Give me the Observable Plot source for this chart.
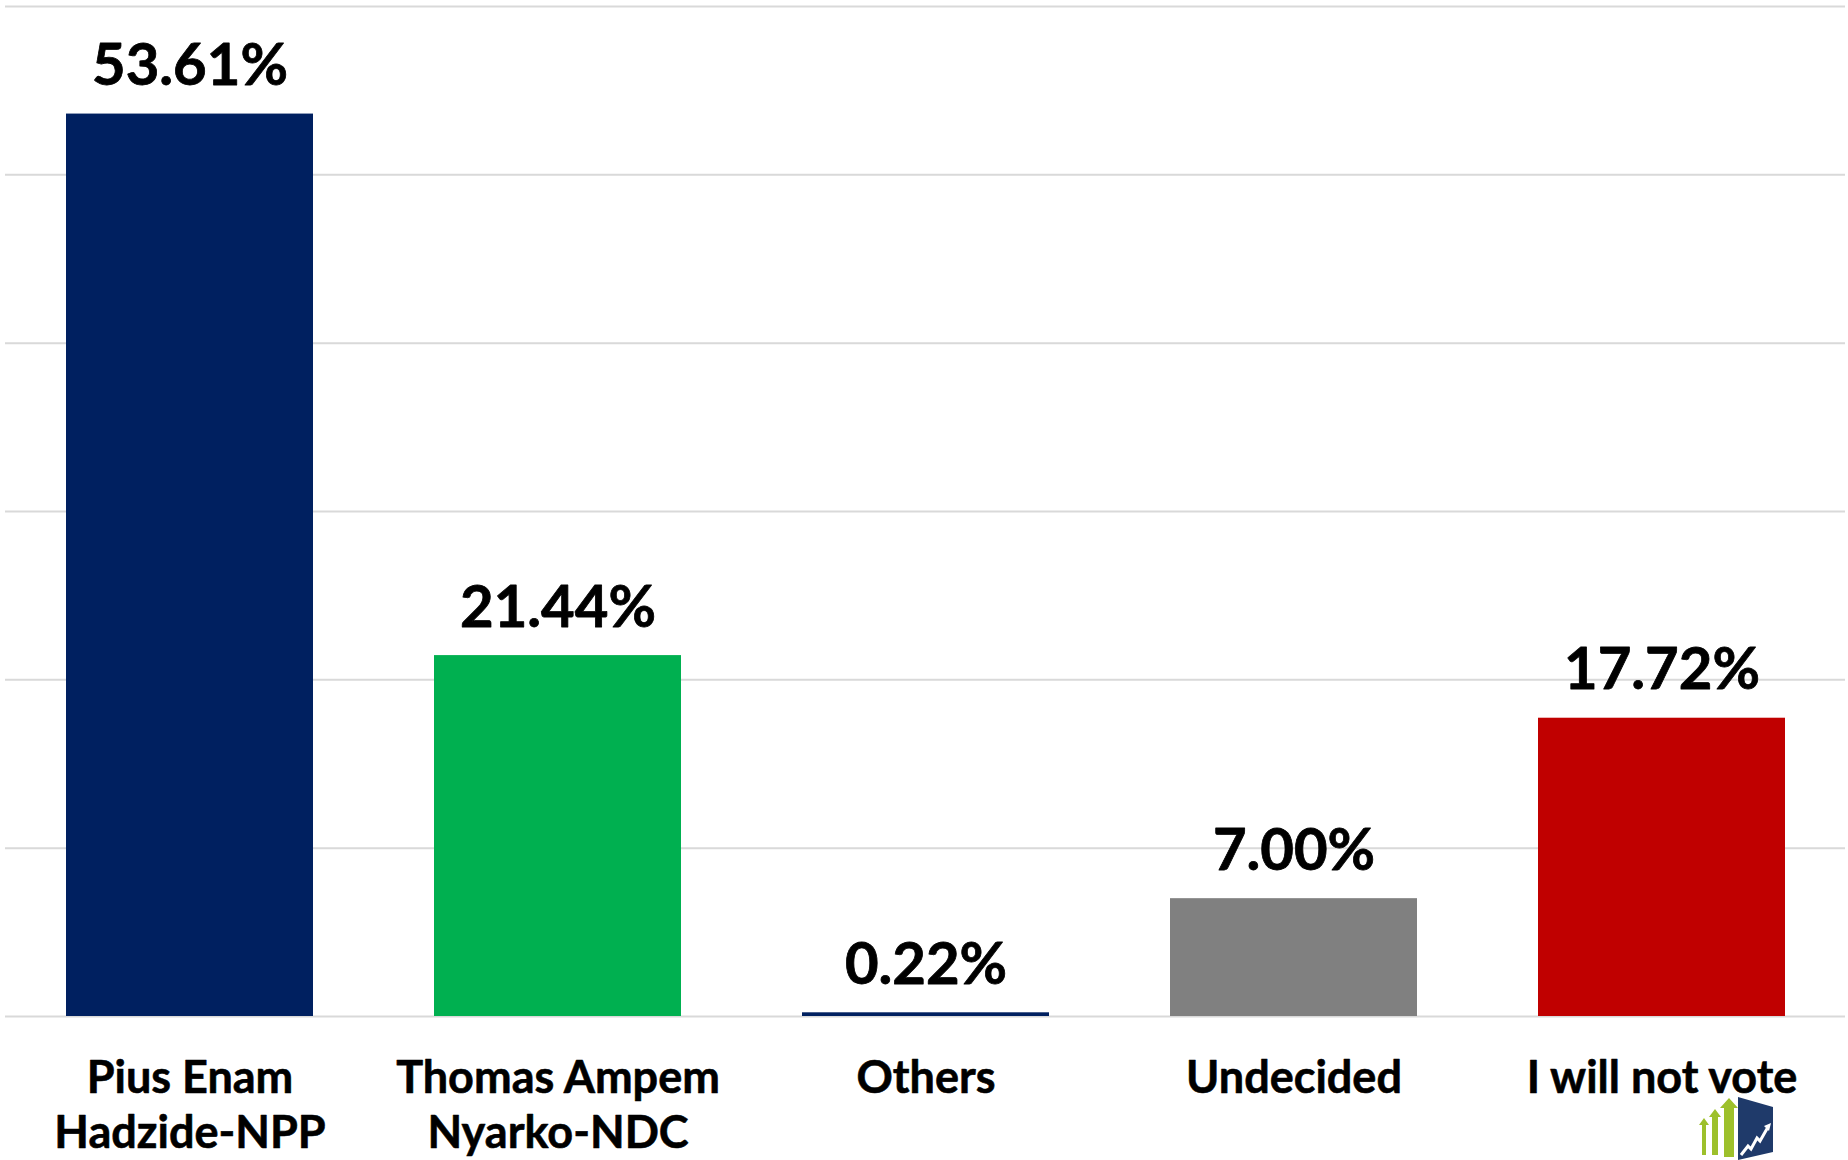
<!DOCTYPE html>
<html>
<head>
<meta charset="utf-8">
<script src="https://cdn.jsdelivr.net/npm/d3@7"></script>
<script src="https://cdn.jsdelivr.net/npm/@observablehq/plot@0.6"></script>
<style>
  html, body { margin: 0; padding: 0; background: #fff; }
  #wrap { position: relative; width: 1848px; height: 1160px; overflow: hidden; }
  #logo { position: absolute; left: 1698px; top: 1094px; }
</style>
</head>
<body>
<div id="wrap">
  <div id="chart"></div>
  <svg id="logo" width="80" height="66" viewBox="0 0 80 66">
    <g fill="#9DC02B">
      <polygon points="4,61 4,31 1,31 6,24 11,31 8,31 8,61"/>
      <polygon points="14,61 14,23 11,23 17,15 23,23 20,23 20,61"/>
      <polygon points="26,63 26,14 22,14 31,4 40,14 36,14 36,63"/>
    </g>
    <polygon points="40,3 75,13 75,58 40,66" fill="#1F3A6A"/>
    <polyline points="43,61 50,52 53,55 59,44 62,47 70,33" fill="none" stroke="#fff" stroke-width="3"/>
    <polygon points="66,32 73,29 71,37" fill="#fff"/>
  </svg>
</div>
<script>
const categories = ["Pius Enam\nHadzide-NPP", "Thomas Ampem\nNyarko-NDC", "Others", "Undecided", "I will not vote"];
const values = [53.61, 21.44, 0.22, 7.00, 17.72];
const colors = ["#002060", "#00B050", "#002060", "#808080", "#C00000"];
const yTicks = [0, 10, 20, 30, 40, 50, 60];

const data = categories.map((c, i) => ({cat: c, value: values[i], color: colors[i]}));

const FONT = "Lato, 'Noto Sans', sans-serif";

const chart = Plot.plot({
  width: 1848,
  height: 1160,
  marginLeft: 5,
  marginRight: 3,
  marginTop: 6,
  marginBottom: 144,
  style: {fontFamily: FONT, background: "#fff"},
  x: {domain: categories, paddingInner: 0.33, paddingOuter: 0.165, axis: null},
  y: {domain: [0, 60], axis: null},
  marks: [
    Plot.ruleY(yTicks, {stroke: "#d9d9d9", strokeWidth: 2}),
    Plot.barY(data, {x: "cat", y: "value", fill: "color"}),
    Plot.text(data, {
      x: "cat", y: "value",
      text: d => d.value.toFixed(2) + "%",
      lineAnchor: "bottom",
      dy: -29,
      fontSize: 58,
      fontWeight: "bold",
      fill: "#000",
      stroke: "#000",
      strokeWidth: 0.8
    }),
    Plot.text(data, {
      x: "cat", y: () => 0,
      text: "cat",
      lineAnchor: "top",
      lineHeight: 1.23,
      dy: 37,
      fontSize: 45,
      fontWeight: "bold",
      fill: "#000",
      stroke: "#000",
      strokeWidth: 0.6
    })
  ]
});
document.getElementById("chart").appendChild(chart);
</script>
</body>
</html>
